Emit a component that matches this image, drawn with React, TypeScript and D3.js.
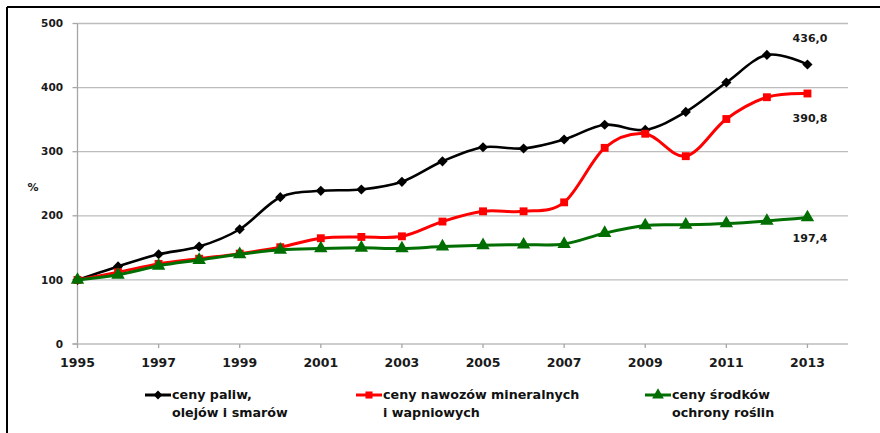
import React from "react";
import * as d3 from "d3";

const years = [1995,1996,1997,1998,1999,2000,2001,2002,2003,2004,2005,2006,2007,2008,2009,2010,2011,2012,2013];
const fuel = [100,121,140,152,179,229,239,241,253,285,307,305,319,342,334,362,408,451,436.0];
const fertilizer = [100,112,125,133,141,151,165,167,168,191,207,207,221,306,328,293,351,385,390.8];
const protection = [100,108,122,131,140,147,149,150,149,152,154,155,156,173,185,186,188,192,197.4];
const yTicks = [0,100,200,300,400,500];
const xTicks = [1995,1997,1999,2001,2003,2005,2007,2009,2011,2013];
const seriesNames = [
  ["ceny paliw,", "olejów i smarów"],
  ["ceny nawozów mineralnych", "i wapniowych"],
  ["ceny środków", "ochrony roślin"],
];
const endLabels = ["436,0", "390,8", "197,4"];

const W = 880, H = 433;
const x = d3.scaleLinear().domain([1995, 2014]).range([77.5, 848]);
const y = d3.scaleLinear().domain([0, 500]).range([344, 23.5]);

const series = [
  { values: fuel, color: "#000000", width: 2.6, marker: "diamond" },
  { values: fertilizer, color: "#ff0000", width: 3, marker: "square" },
  { values: protection, color: "#006e00", width: 3, marker: "triangle" },
];

const symbolFor = (m: string) =>
  m === "diamond" ? d3.symbol(d3.symbolDiamond2, 66)() :
  m === "square" ? d3.symbol(d3.symbolSquare, 62)() :
  d3.symbol(d3.symbolTriangle, 78)();

const labelYOffset = [-26, 24.5, 20.5];
const legendX = [145, 356, 645];
const font = "'DejaVu Sans', Verdana, sans-serif";

export default function App() {
  const line = d3.line<number>()
    .x((_, i) => x(years[i]))
    .y((v) => y(v))
    .curve(d3.curveCatmullRom.alpha(0));
  return (
    <svg width={W} height={H} style={{ position: "absolute", left: 0, top: 0, background: "#fff" }}>
      <rect x={0} y={0} width={W} height={H} fill="#fff" />
      <line x1={7} y1={7} x2={W} y2={7} stroke="#000" strokeWidth={2} />
      <line x1={7} y1={7} x2={7} y2={H} stroke="#000" strokeWidth={2} />
      {yTicks.filter(t => t > 0).map(t => (
        <line key={t} x1={x(1995)} x2={x(2014)} y1={y(t)} y2={y(t)} stroke="#bdbdbd" strokeWidth={1.3} />
      ))}
      <line x1={x(1995)} x2={x(1995)} y1={y(500)} y2={y(0)} stroke="#a6a6a6" strokeWidth={1.3} />
      <line x1={x(1995) - 5} x2={x(2014)} y1={y(0)} y2={y(0)} stroke="#bdbdbd" strokeWidth={1.3} />
      {yTicks.map(t => (
        <g key={t}>
          <line x1={x(1995) - 5} x2={x(1995)} y1={y(t)} y2={y(t)} stroke="#a6a6a6" strokeWidth={1.3} />
          <text x={63} y={y(t)} dy="0.35em" textAnchor="end" fontFamily={font} fontWeight="bold" fontSize={10.5} fill="#1a1a1a">{t}</text>
        </g>
      ))}
      {xTicks.map(t => (
        <g key={t}>
          <line x1={x(t)} x2={x(t)} y1={y(0)} y2={y(0) + 4} stroke="#a6a6a6" strokeWidth={1.3} />
          <text x={x(t)} y={367} textAnchor="middle" fontFamily={font} fontWeight="bold" fontSize={12.5} fill="#1a1a1a">{t}</text>
        </g>
      ))}
      <text x={33} y={187} dy="0.35em" textAnchor="middle" fontFamily={font} fontWeight="bold" fontSize={11} fill="#1a1a1a">%</text>
      {series.map((s, si) => (
        <g key={si}>
          <path d={line(s.values) || ""} fill="none" stroke={s.color} strokeWidth={s.width} strokeLinejoin="round" />
          {s.values.map((v, i) => (
            <path key={i} d={symbolFor(s.marker) || ""} transform={`translate(${x(years[i])},${y(v)})`} fill={s.color} />
          ))}
          <text x={810} y={y(s.values[s.values.length - 1]) + labelYOffset[si]} dy="0.35em" textAnchor="middle"
            fontFamily={font} fontWeight="bold" fontSize={11} fill="#1a1a1a">{endLabels[si]}</text>
        </g>
      ))}
      {series.map((s, si) => (
        <g key={"l" + si} transform={`translate(${legendX[si]},0)`}>
          <line x1={0} x2={26} y1={395} y2={395} stroke={s.color} strokeWidth={3} />
          <path d={d3.symbol(s.marker === "diamond" ? d3.symbolDiamond2 : s.marker === "square" ? d3.symbolSquare : d3.symbolTriangle, s.marker === "triangle" ? 60 : 50)() || ""}
            transform={`translate(13,395)`} fill={s.color} />
          <text x={27} y={395} dy="0.35em" fontFamily={font} fontWeight="bold" fontSize={12.7} fill="#111">{seriesNames[si][0]}</text>
          <text x={27} y={412.5} dy="0.35em" fontFamily={font} fontWeight="bold" fontSize={12.7} fill="#111">{seriesNames[si][1]}</text>
        </g>
      ))}
    </svg>
  );
}
